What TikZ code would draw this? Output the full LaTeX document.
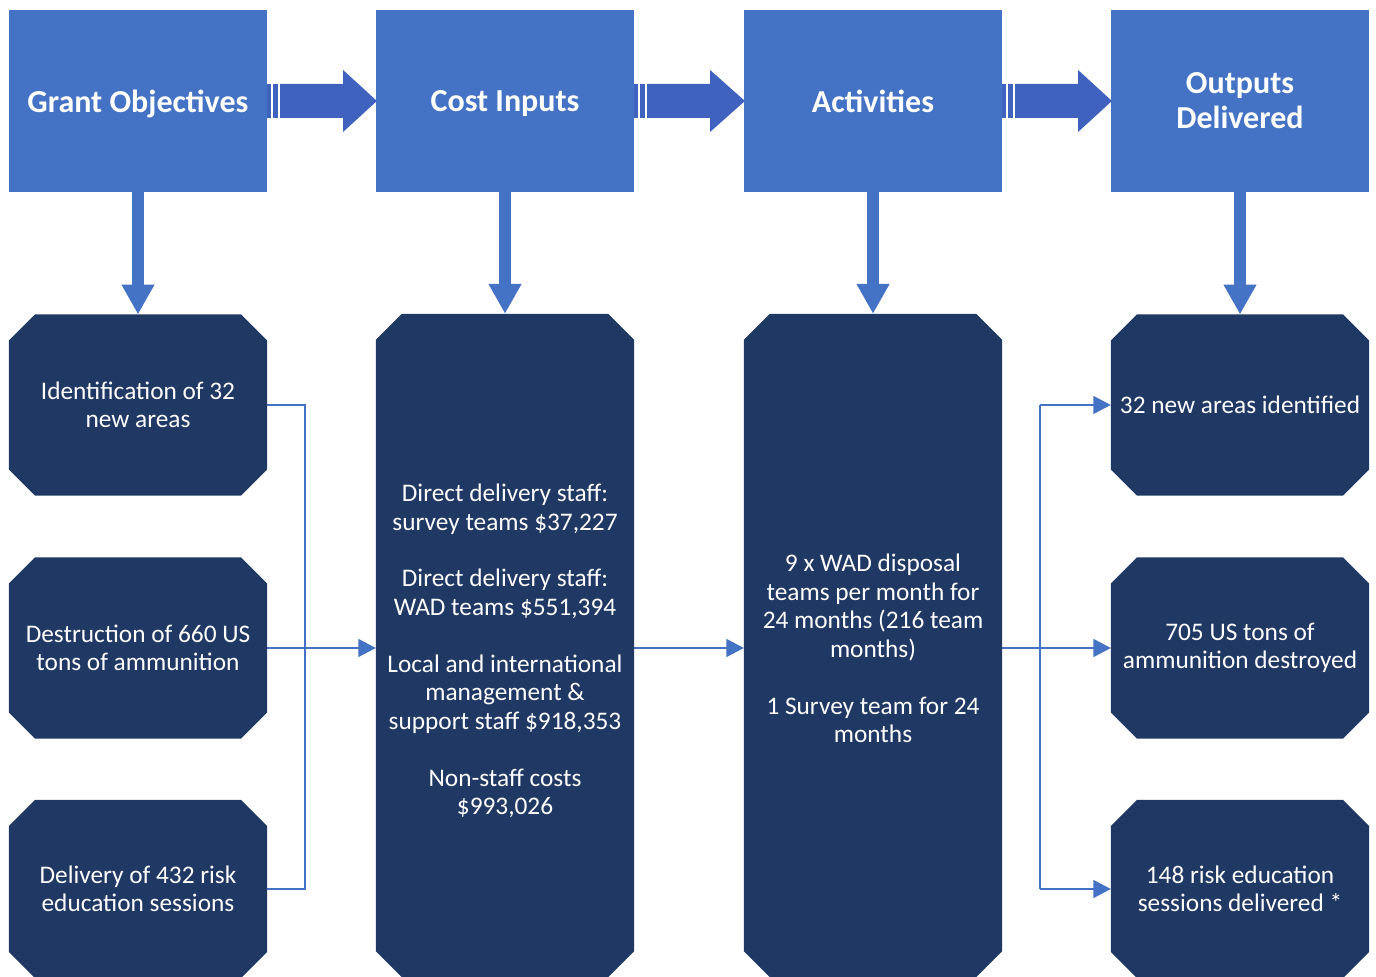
\documentclass[tikz,border=0pt]{standalone}
\usepackage{fontspec}
\setmainfont{Carlito}
\usetikzlibrary{arrows.meta,calc}
\definecolor{hblue}{HTML}{4472C4}
\definecolor{ablue}{HTML}{3F62BF}
\definecolor{navy}{HTML}{1F3864}
\begin{document}
\begin{tikzpicture}[x=0.01cm,y=-0.01cm,
  headbox/.style={fill=hblue, minimum width=2.58cm, minimum height=1.81cm, inner sep=0pt, outer sep=0pt, text=white, font=\fontsize{9.1}{10}\selectfont\bfseries, align=center},
  darkbox/.style={rectangle, minimum width=2.58cm, minimum height=1.81cm, inner sep=0pt, outer sep=0pt, text=white, font=\fontsize{7.2}{8.1}\selectfont, align=center,
    path picture={\fill[navy]
      ($(path picture bounding box.north west)+(26,0)$) --
      ($(path picture bounding box.north east)+(-26,0)$) --
      ($(path picture bounding box.north east)+(0,26)$) --
      ($(path picture bounding box.south east)+(0,-26)$) --
      ($(path picture bounding box.south east)+(-26,0)$) --
      ($(path picture bounding box.south west)+(26,0)$) --
      ($(path picture bounding box.south west)+(0,-26)$) --
      ($(path picture bounding box.north west)+(0,26)$) -- cycle;}},
  downarrow/.style={draw=hblue, line width=3.4pt, -{Triangle[width=8.8pt,length=8.5pt]}},
  thinline/.style={draw=hblue, line width=0.75pt},
  thinarrow/.style={thinline, -{Triangle[width=5pt,length=5pt]}}
]
\useasboundingbox (0,0) rectangle (1376,977);

% header boxes
\node[headbox, text depth=0pt] (h1) at (138,101) {Grant Objectives};
\node[headbox, text depth=0pt] (h2) at (505,101) {Cost Inputs};
\node[headbox, text depth=0pt] (h3) at (873,101) {Activities};
\node[headbox] (h4) at (1240,101) {Outputs\\Delivered};

% block arrows between header boxes
\foreach \a/\b in {h1/h2,h2/h3,h3/h4}{
  \fill[ablue] ($(\a.east)+(0,-17)$) rectangle ($(\a.east)+(4,17)$);
  \fill[ablue] ($(\a.east)+(6,-17)$) rectangle ($(\a.east)+(11,17)$);
  \fill[ablue] ($(\a.east)+(13,-17)$) -- ($(\a.east)+(76,-17)$) -- ($(\a.east)+(76,-31)$)
     -- ($(\b.west)+(1,0)$) -- ($(\a.east)+(76,31)$) -- ($(\a.east)+(76,17)$)
     -- ($(\a.east)+(13,17)$) -- cycle;
}

% dark boxes
\node[darkbox] (g1) at (138,405) {Identification of 32\\new areas};
\node[darkbox] (g2) at (138,648) {Destruction of 660 US\\tons of ammunition};
\node[darkbox, minimum height=1.78cm] (g3) at (138,889) {Delivery of 432 risk\\education sessions};

\node[darkbox, minimum height=6.63cm] (ci) at (505,645.5) {\raisebox{-0.07cm}[\height][\depth]{\begin{tabular}{@{}c@{}}Direct delivery staff:\\survey teams \$37,227\\[8.1pt]Direct delivery staff:\\WAD teams \$551,394\\[8.1pt]Local and international\\management \&\\support staff \$918,353\\[8.1pt]Non-staff costs\\\$993,026\end{tabular}}};
\node[darkbox, minimum height=6.63cm] (ac) at (873,645.5) {\raisebox{-0.06cm}[\height][\depth]{\begin{tabular}{@{}c@{}}9 x WAD disposal\\teams per month for\\24 months (216 team\\months)\\[8.1pt]1 Survey team for 24\\months\end{tabular}}};

\node[darkbox] (o1) at (1240,405) {32 new areas identified};
\node[darkbox] (o2) at (1240,648) {705 US tons of\\ammunition destroyed};
\node[darkbox, minimum height=1.78cm] (o3) at (1240,889) {148 risk education\\sessions delivered *};

% down arrows
\draw[downarrow] (h1.south) -- (g1.north);
\draw[downarrow] (h2.south) -- (ci.north);
\draw[downarrow] (h3.south) -- (ac.north);
\draw[downarrow] (h4.south) -- (o1.north);

% connectors
\coordinate (xL) at (305,648);
\coordinate (xR) at (1040,648);
\draw[thinline] (g1.east) -- (g1.east -| xL) -- (g3.east -| xL) -- (g3.east);
\draw[thinarrow] (g2.east) -- (ci.west |- g2.east);
\draw[thinarrow] (ci.east |- g2.east) -- (ac.west |- g2.east);
\draw[thinarrow] (ac.east |- o2.west) -- (o2.west);
\draw[thinline] (o1.west -| xR) -- (o3.west -| xR);
\draw[thinarrow] (o1.west -| xR) -- (o1.west);
\draw[thinarrow] (o3.west -| xR) -- (o3.west);
\end{tikzpicture}
\end{document}
